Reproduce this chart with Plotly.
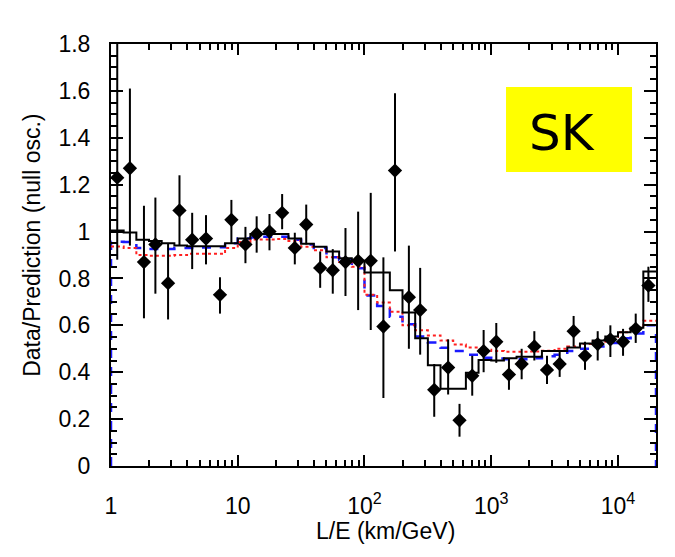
import numpy as np
import plotly.graph_objects as go

# ---------------- data ----------------
# L/E bin centres (km/GeV)
le_centres = [1.12, 1.41, 1.82, 2.24, 2.82, 3.47, 4.37, 5.62, 7.24, 8.91,
              11.5, 14.1, 17.8, 22.4, 28.2, 34.7, 44.7, 56.2, 70.8, 89.1,
              112, 141, 174, 224, 275, 355, 457, 562, 708, 871,
              1096, 1380, 1738, 2188, 2754, 3467, 4467, 5495, 6918, 8710,
              10965, 13804, 17378]
# Data / prediction ratio and error-bar ends
ratio = [1.23, 1.27, 0.87, 0.945, 0.78, 1.09, 0.965, 0.97, 0.73, 1.05,
         0.945, 0.99, 1.00, 1.08, 0.93, 1.03, 0.845, 0.835, 0.87, 0.875,
         0.875, 0.595, 1.26, 0.72, 0.665, 0.325, 0.42, 0.195, 0.385, 0.49,
         0.53, 0.39, 0.435, 0.51, 0.41, 0.435, 0.575, 0.47, 0.52, 0.54,
         0.53, 0.585, 0.77]
err_low = [0.88, 0.94, 0.63, 0.735, 0.625, 0.94, 0.84, 0.86, 0.65, 0.95,
           0.865, 0.91, 0.92, 1.01, 0.86, 0.945, 0.76, 0.735, 0.725, 0.665,
           0.58, 0.29, 0.915, 0.50, 0.475, 0.21, 0.305, 0.125, 0.30, 0.40,
           0.44, 0.325, 0.37, 0.45, 0.35, 0.38, 0.51, 0.41, 0.45, 0.465,
           0.47, 0.525, 0.70]
err_high = [1.80, 1.61, 1.11, 1.145, 0.95, 1.24, 1.08, 1.07, 0.805, 1.135,
            1.02, 1.065, 1.075, 1.16, 0.995, 1.115, 0.915, 0.925, 1.015, 1.085,
            1.165, 0.89, 1.59, 0.94, 0.845, 0.435, 0.54, 0.265, 0.47, 0.58,
            0.61, 0.46, 0.50, 0.575, 0.47, 0.49, 0.64, 0.53, 0.575, 0.60,
            0.585, 0.65, 0.85]

# expectation histograms (one value per bin)
osc_hist = [1.005, 0.996, 0.965, 0.96, 0.95, 0.94, 0.937, 0.937, 0.937, 0.95,
            0.97, 0.99, 0.99, 0.99, 0.97, 0.948, 0.935, 0.915, 0.886, 0.876,
            0.825, 0.825, 0.75, 0.655, 0.545, 0.43, 0.33, 0.33, 0.398, 0.452,
            0.45, 0.46, 0.466, 0.466, 0.49, 0.49, 0.505, 0.522, 0.535, 0.552,
            0.57, 0.59, 0.83]
decay_hist = [0.957, 0.955, 0.93, 0.926, 0.926, 0.93, 0.93, 0.932, 0.933, 0.95,
              0.97, 0.975, 0.978, 0.978, 0.965, 0.945, 0.93, 0.89, 0.88, 0.843,
              0.727, 0.682, 0.637, 0.605, 0.552, 0.527, 0.504, 0.49, 0.474, 0.462,
              0.458, 0.455, 0.455, 0.46, 0.468, 0.475, 0.49, 0.50, 0.51, 0.525,
              0.545, 0.565, 0.60]
decoh_hist = [0.936, 0.93, 0.90, 0.897, 0.897, 0.90, 0.905, 0.905, 0.905, 0.93,
              0.955, 0.966, 0.966, 0.968, 0.96, 0.935, 0.92, 0.89, 0.87, 0.85,
              0.73, 0.697, 0.658, 0.60, 0.579, 0.557, 0.535, 0.518, 0.505, 0.496,
              0.49, 0.487, 0.487, 0.488, 0.492, 0.50, 0.51, 0.52, 0.53, 0.55,
              0.57, 0.59, 0.62]

x_tick_vals = [1, 10, 100, 1000, 10000]
x_tick_text = ["1", "10", "10<sup>2</sup>", "10<sup>3</sup>", "10<sup>4</sup>"]
y_tick_vals = [0, 0.2, 0.4, 0.6, 0.8, 1, 1.2, 1.4, 1.6, 1.8]
y_tick_text = ["0", "0.2", "0.4", "0.6", "0.8", "1", "1.2", "1.4", "1.6", "1.8"]
x_title = "L/E (km/GeV)"
y_title = "Data/Prediction (null osc.)"
label_text = "SK"

# binning: 0.1 decade bins from 1 to 10^4.3 km/GeV
log_edges = np.round(np.arange(0, 43 + 1) * 0.1, 2)
edges = list(10 ** log_edges)

FONT = "Liberation Sans, Arial, Helvetica, sans-serif"

fig = go.Figure()

# decay (blue dashed) – drops to 0 at both ends of the range
fig.add_trace(go.Scatter(
    x=[edges[0]] + edges + [edges[-1]],
    y=[0] + decay_hist + [decay_hist[-1], 0],
    mode="lines", line=dict(color="#1a1aff", width=2.5, dash="dash", shape="hv"),
    hoverinfo="skip", showlegend=False))

# decoherence (red dotted)
fig.add_trace(go.Scatter(
    x=edges, y=decoh_hist + [decoh_hist[-1]],
    mode="lines", line=dict(color="#ff2020", width=2, dash="dot", shape="hv"),
    hoverinfo="skip", showlegend=False))

# oscillation (black solid)
fig.add_trace(go.Scatter(
    x=edges, y=osc_hist + [osc_hist[-1]],
    mode="lines", line=dict(color="black", width=2, shape="hv"),
    hoverinfo="skip", showlegend=False))

# data points
fig.add_trace(go.Scatter(
    x=le_centres, y=ratio, mode="markers",
    marker=dict(symbol="diamond", size=11, color="black"),
    error_y=dict(type="data", symmetric=False,
                 array=[h - r for h, r in zip(err_high, ratio)],
                 arrayminus=[r - l for r, l in zip(ratio, err_low)],
                 color="black", thickness=2, width=0),
    showlegend=False))

x_minor = []
for dec in range(0, 5):
    for m in range(2, 10):
        x_minor.append(m * 10 ** dec)

fig.update_xaxes(
    type="log", range=[0, 4.3], automargin=False,
    tickvals=x_tick_vals, ticktext=x_tick_text, ticklabelstandoff=18,
    ticks="inside", ticklen=11, tickwidth=1.5, tickcolor="black",
    minor=dict(tickvals=x_minor, ticks="inside", ticklen=6, tickwidth=1.5, tickcolor="black"),
    showline=True, linecolor="black", linewidth=2, mirror="ticks",
    showgrid=False, zeroline=False,
    tickfont=dict(family=FONT, size=23, color="black"),
)
fig.update_yaxes(
    range=[0, 1.8], automargin=False,
    tickvals=y_tick_vals, ticktext=y_tick_text, ticklabelstandoff=14,
    ticks="inside", ticklen=12, tickwidth=1.5, tickcolor="black",
    minor=dict(dtick=0.05, ticks="inside", ticklen=6, tickwidth=1.5, tickcolor="black"),
    showline=True, linecolor="black", linewidth=2, mirror="ticks",
    showgrid=False, zeroline=False,
    tickfont=dict(family=FONT, size=23, color="black"),
)

# axis titles
fig.add_annotation(text=x_title, xref="paper", yref="paper", x=0.503, y=-0.154,
                   xanchor="center", yanchor="middle", showarrow=False,
                   font=dict(family=FONT, size=23, color="black"))
fig.add_annotation(text=y_title, xref="paper", yref="paper", x=-0.145, y=0.524,
                   xanchor="center", yanchor="middle", textangle=-90, showarrow=False,
                   font=dict(family=FONT, size=23, color="black"))

# SK label box
fig.add_shape(type="rect", xref="paper", yref="paper",
              x0=0.7248, x1=0.956, y0=0.6967, y1=0.898,
              fillcolor="#ffff00", line=dict(width=0), layer="above")
fig.add_annotation(text=label_text, xref="paper", yref="paper", x=0.8284, y=0.79,
                   xanchor="center", yanchor="middle",
                   showarrow=False,
                   font=dict(family="DejaVu Sans, sans-serif", size=50, color="black"))

# the page body adds an 8 px margin, so the figure is sized to fit the window
fig.update_layout(
    width=667, height=549,
    margin=dict(l=103, r=19, t=36, b=91),
    paper_bgcolor="white", plot_bgcolor="white",
)

fig.write_html("out.html", config={"displayModeBar": False})
